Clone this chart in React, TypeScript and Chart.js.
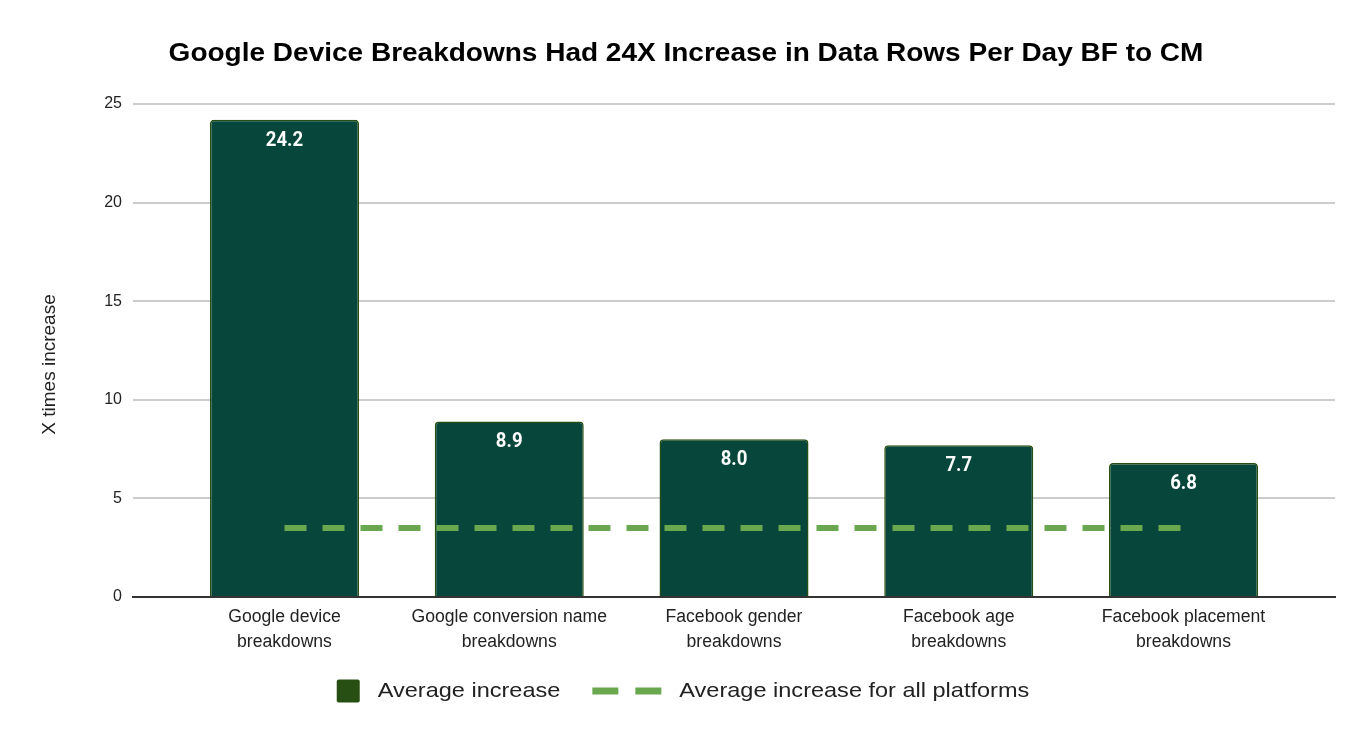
import React, { useEffect, useRef } from "react";
import { Chart, registerables } from "chart.js";

Chart.register(...registerables);

const chartTitle = "Google Device Breakdowns Had 24X Increase in Data Rows Per Day BF to CM";
const yAxisTitle = "X times increase";
const categories: string[][] = [
  ["Google device", "breakdowns"],
  ["Google conversion name", "breakdowns"],
  ["Facebook gender", "breakdowns"],
  ["Facebook age", "breakdowns"],
  ["Facebook placement", "breakdowns"],
];
const averageIncrease = [24.2, 8.9, 8.0, 7.7, 6.8];
const allPlatformsAverage = [3.5, 3.5, 3.5, 3.5, 3.5];
const yTickValues = [0, 5, 10, 15, 20, 25];
const seriesNames = ["Average increase", "Average increase for all platforms"];

const BAR_FILL = "#07463a";
const BAR_BORDER = "#274e13";
const LINE_COLOR = "#6aa84f";
const TEXT = "#222222";
const SANS = "'Liberation Sans', Arial, sans-serif";
const STRETCH = 1.12;

function stretchedText(ctx: any, text: string, x: number, y: number, sx: number) {
  ctx.save();
  ctx.translate(x, y);
  ctx.scale(sx, 1);
  ctx.fillText(text, 0, 0);
  ctx.restore();
}

const titlePlugin = {
  id: "customTitle",
  afterDraw(chart: any) {
    const ctx = chart.ctx;
    ctx.save();
    ctx.fillStyle = "#000000";
    ctx.font = `bold 25px ${SANS}`;
    ctx.textAlign = "center";
    ctx.textBaseline = "middle";
    stretchedText(ctx, chartTitle, chart.width / 2, 54, STRETCH);
    ctx.restore();
  },
};

const barLabelPlugin = {
  id: "barLabels",
  afterDatasetsDraw(chart: any) {
    const meta = chart.getDatasetMeta(0);
    const ctx = chart.ctx;
    ctx.save();
    ctx.fillStyle = "#ffffff";
    ctx.font = "bold 20px Roboto, 'Liberation Sans', sans-serif";
    ctx.textAlign = "center";
    ctx.textBaseline = "middle";
    meta.data.forEach((el: any, i: number) => {
      stretchedText(ctx, averageIncrease[i].toFixed(1), el.x, el.y + 21, 0.93);
    });
    ctx.restore();
  },
};

const yTitlePlugin = {
  id: "yTitle",
  afterDraw(chart: any) {
    const ctx = chart.ctx;
    const area = chart.chartArea;
    ctx.save();
    ctx.translate(50, (area.top + area.bottom) / 2 + 14);
    ctx.rotate(-Math.PI / 2);
    ctx.fillStyle = TEXT;
    ctx.font = `19px ${SANS}`;
    ctx.textAlign = "center";
    ctx.textBaseline = "middle";
    ctx.fillText(yAxisTitle, 0, 0);
    ctx.restore();
  },
};

const legendPlugin = {
  id: "customLegend",
  afterDraw(chart: any) {
    const ctx = chart.ctx;
    ctx.save();
    ctx.font = `21px ${SANS}`;
    ctx.textBaseline = "middle";
    ctx.textAlign = "left";
    const box = 23;
    const dashLen = 26;
    const dashGap = 17;
    const dashIcon = dashLen * 2 + dashGap;
    const iconGap = 18;
    const itemGap = 32;
    const w0 = ctx.measureText(seriesNames[0]).width * STRETCH;
    const w1 = ctx.measureText(seriesNames[1]).width * STRETCH;
    const total = box + iconGap + w0 + itemGap + dashIcon + iconGap + w1;
    let x = (chart.width - total) / 2 - 3;
    const cy = chart.height - 51;
    ctx.fillStyle = BAR_BORDER;
    ctx.beginPath();
    (ctx as any).roundRect(x, cy - box / 2, box, box, 2);
    ctx.fill();
    x += box + iconGap;
    ctx.fillStyle = TEXT;
    stretchedText(ctx, seriesNames[0], x, cy, STRETCH);
    x += w0 + itemGap;
    ctx.fillStyle = LINE_COLOR;
    ctx.fillRect(x, cy - 3.5, dashLen, 7);
    ctx.fillRect(x + dashLen + dashGap, cy - 3.5, dashLen, 7);
    x += dashIcon + iconGap;
    ctx.fillStyle = TEXT;
    stretchedText(ctx, seriesNames[1], x, cy, STRETCH);
    ctx.restore();
  },
};

export default function App() {
  const ref = useRef<HTMLCanvasElement>(null);
  useEffect(() => {
    if (!ref.current) return;
    const chart = new Chart(ref.current, {
      data: {
        datasets: [
          {
            type: "bar",
            label: seriesNames[0],
            data: averageIncrease.map((v, i) => ({ x: i, y: v })),
            backgroundColor: BAR_FILL,
            borderColor: BAR_BORDER,
            borderWidth: 1.5,
            borderRadius: 4,
            borderSkipped: "bottom",
            categoryPercentage: 1,
            barPercentage: 0.663,
            order: 2,
          } as any,
          {
            type: "line",
            label: seriesNames[1],
            data: allPlatformsAverage.map((v, i) => ({ x: i, y: v })),
            borderColor: LINE_COLOR,
            borderWidth: 6,
            borderDash: [22, 16],
            borderCapStyle: "butt",
            pointRadius: 0,
            fill: false,
            order: 1,
          } as any,
        ],
      },
      options: {
        animation: false,
        responsive: true,
        maintainAspectRatio: false,
        layout: { padding: { left: 0, right: 37, top: 104, bottom: 0 } },
        plugins: {
          legend: { display: false },
          tooltip: { enabled: false },
          title: { display: false },
        },
        scales: {
          x: {
            type: "linear",
            offset: false,
            min: -0.674,
            max: 4.674,
            afterFit(scale: any) {
              scale.height = 145;
            },
            afterBuildTicks(scale: any) {
              scale.ticks = categories.map((_, i) => ({ value: i }));
            },
            ticks: {
              autoSkip: false,
              maxRotation: 0,
              padding: 8,
              color: TEXT,
              font: { family: SANS, size: 17.6, lineHeight: 1.42 },
              callback: (v: any) => categories[v as number],
            },
            grid: { display: false, drawTicks: false, offset: false },
            border: { display: true, color: "#333333", width: 2 },
          },
          y: {
            min: 0,
            max: 25,
            afterFit(scale: any) {
              scale.width = 133;
            },
            afterBuildTicks(scale: any) {
              scale.ticks = yTickValues.map((v) => ({ value: v }));
            },
            ticks: {
              padding: 11,
              color: TEXT,
              font: { family: SANS, size: 16 },
            },
            grid: { color: "#cccccc", lineWidth: 2, drawTicks: false },
            border: { display: false },
          },
        },
      },
      plugins: [titlePlugin, barLabelPlugin, yTitlePlugin, legendPlugin],
    } as any);
    return () => chart.destroy();
  }, []);
  return (
    <div style={{ position: "fixed", left: 0, top: 0, width: 1372, height: 742, background: "#ffffff" }}>
      <canvas ref={ref} />
    </div>
  );
}
